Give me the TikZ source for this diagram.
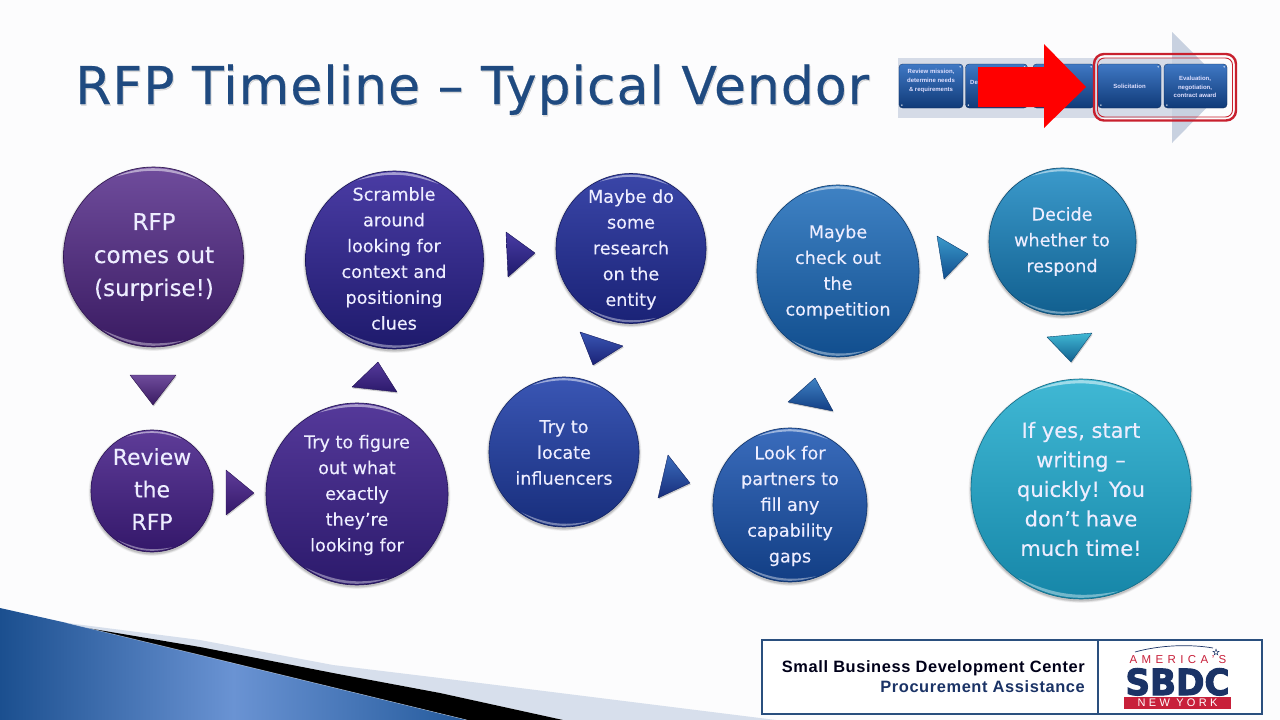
\documentclass[tikz,border=0pt]{standalone}
\usepackage{fontspec}
\setmainfont[FakeBold=0.2]{DejaVu Sans}
\newfontfamily\titlefont[FakeBold=0.4,LetterSpace=1.9]{DejaVu Sans}
\newfontfamily\legendfont[LetterSpace=3.7]{Liberation Sans}
\newfontfamily\logofont[LetterSpace=38]{Liberation Sans}
\newfontfamily\logofontb[LetterSpace=30]{Liberation Sans}
\newfontfamily\heavyfont[FakeBold=3]{DejaVu Sans Bold}
\newfontfamily\minifont{Liberation Sans}
\usetikzlibrary{calc}
\definecolor{bgc}{HTML}{FCFCFD}
\definecolor{titlec}{HTML}{1F4A80}
\definecolor{bandc}{HTML}{D7DFEC}
\definecolor{logoblue}{HTML}{1B3366}
\definecolor{logored}{HTML}{C8203A}
\definecolor{bordc}{HTML}{2A4F7E}
\definecolor{ringred}{HTML}{C8202E}
\definecolor{miniT}{HTML}{3F78C4}
\definecolor{miniB}{HTML}{103A78}
\definecolor{chevron}{HTML}{C8D1E0}
\definecolor{swA}{HTML}{1B4F8F}
\definecolor{swB}{HTML}{6A93D3}
\definecolor{swC}{HTML}{245A9C}
\definecolor{oA}{HTML}{6F4C9C}\definecolor{oa}{HTML}{3A1B62}
\definecolor{oB}{HTML}{5E3C98}\definecolor{ob}{HTML}{34186A}
\definecolor{oC}{HTML}{55399A}\definecolor{oc}{HTML}{2C1A6C}
\definecolor{oD}{HTML}{4A3CA4}\definecolor{od}{HTML}{1E1A6C}
\definecolor{oE}{HTML}{3A46A8}\definecolor{oe}{HTML}{1A2276}
\definecolor{oF}{HTML}{3A56B4}\definecolor{of}{HTML}{182E7C}
\definecolor{oG}{HTML}{3A6CBC}\definecolor{og}{HTML}{123E84}
\definecolor{oH}{HTML}{3F82C4}\definecolor{oh}{HTML}{114E8E}
\definecolor{oI}{HTML}{3B9ACB}\definecolor{oi}{HTML}{115F8F}
\definecolor{oJ}{HTML}{40B8D4}\definecolor{oj}{HTML}{1686A8}
\tikzset{
  orbtext/.style={align=center,text=white!93!blue,inner sep=0pt},
  minibox/.style={rounded corners=3.5pt,top color=miniT,bottom color=miniB,draw=miniB!70!black,line width=.3pt,minimum height=44pt,inner sep=0pt},
  minilabel/.style={align=center,text=white!88!blue,inner sep=0pt,font=\minifont\bfseries\fontsize{6}{8.6}\selectfont},
}
% \orb{name}{x}{y}{r}{top colour}{bottom colour}
\newcommand\orb[6]{%
  \foreach \k/\o in {3/.05,2/.08,1/.12}{\fill[black,opacity=\o] (#2,#3+1.5) circle[radius=#4+\k*.8];}
  \node[circle,inner sep=0pt,minimum size=2*#4 pt,draw=#6!80!black,line width=.6pt,top color=#5,bottom color=#6] (#1) at (#2,#3) {};
  \path (#2,#3) ++(245:#4-1.2) coordinate (p1);
  \fill[white,opacity=.5] (p1) arc[start angle=245,end angle=300,radius=#4-1.2] to[bend right=18] (p1);
  \path (#2,#3) ++(70:#4-1.2) coordinate (p1);
  \fill[white,opacity=.4] (p1) arc[start angle=70,end angle=125,radius=#4-1.2] to[bend right=18] (p1);
}
% \tri{x1}{y1}{x2}{y2}{x3}{y3}{top}{bottom}
\newcommand\tri[8]{%
  \fill[black,opacity=.18,line join=round] (#1+.8,#2+1.5) -- (#3+.8,#4+1.5) -- (#5+.8,#6+1.5) -- cycle;
  \path[draw=#8!80!black,line width=.4pt,line join=round,top color=#7,bottom color=#8] (#1,#2) -- (#3,#4) -- (#5,#6) -- cycle;
}
\begin{document}
\begin{tikzpicture}[x=1pt,y=-1pt]
\useasboundingbox (0,0) rectangle (1280,720);
\fill[bgc] (0,0) rectangle (1280,720);
% swoosh
\fill[bandc] (67,623) -- (200,640) -- (333,665) -- (440,678) -- (640,703) -- (776,720) -- (563,720) -- (440,693) -- (87,628) -- cycle;
\fill[black] (87,628) -- (200,647) -- (333,673) -- (440,693) -- (563,720) -- (467,720) -- cycle;
\shade[left color=swA,right color=swC,middle color=swB]
  (0,608) -- (67,623) -- (200,655) -- (467,720) -- (0,720) -- cycle;
\draw[white,opacity=.45,line width=.5pt] (67,623) -- (200,655) -- (467,720);
% title
\node[anchor=base west,inner sep=0pt,text=black,opacity=.12,font=\titlefont\fontsize{52}{52}\selectfont] at (76,105.5) {RFP Timeline – Typical Vendor};
\node[anchor=base west,inner sep=0pt,text=titlec,font=\titlefont\fontsize{52}{52}\selectfont] (title) at (75,104) {RFP Timeline – Typical Vendor};
% mini process
\fill[chevron,opacity=.75] (898,58) rectangle (1172,118);
\fill[chevron] (1172,32) -- (1227,87) -- (1172,143) -- cycle;
\node[minibox,minimum width=64pt] (m1) at (931,86) {};
\node[minibox,minimum width=62pt] (m2) at (996.5,86) {};
\node[minibox,minimum width=61pt] (m3) at (1063.5,86) {};
\node[minibox,minimum width=63pt] (m4) at (1129.5,86) {};
\node[minibox,minimum width=63pt] (m5) at (1195.5,86) {};
\foreach \n in {m1,m2,m3,m4,m5}{
  \fill[white,opacity=.8] ($(\n.north east)+(-3,3)$) circle[radius=.8];
  \fill[white,opacity=.8] ($(\n.south west)+(3,-3)$) circle[radius=.8];
}
\node[minilabel] (m1t) at (931,81) {Review mission,\\determine needs\\\& requirements};
\node[minilabel,anchor=west] (m2t) at (970,82) {De};
\node[minilabel] (m4t) at (1129.5,86) {Solicitation};
\node[minilabel] (m5t) at (1195,87) {Evaluation,\\negotiation,\\contract award};
\draw[ringred,line width=2.4pt,rounded corners=10pt] (1094,54) rectangle (1236,120.5);
\draw[ringred,line width=.9pt,rounded corners=7pt] (1097.5,58) rectangle (1232.5,117);
\fill[red] (978,67) -- (1044,67) -- (1044,44) -- (1086,87) -- (1044,128) -- (1044,107) -- (978,107) -- cycle;
% orbs
\orb{a}{153.5}{257}{90}{oA}{oa}
\orb{b}{152}{491}{61}{oB}{ob}
\orb{c}{357}{494}{91}{oC}{oc}
\orb{d}{394.5}{260}{89}{oD}{od}
\orb{e}{631}{248.5}{75}{oE}{oe}
\orb{f}{564}{452}{75}{oF}{of}
\orb{g}{790}{505}{77}{oG}{og}
\begin{scope}[shift={(838,271)},xscale=.942,transform shape]
\orb{h}{0}{0}{86}{oH}{oh}
\end{scope}
\orb{i}{1062.5}{241.5}{73.5}{oI}{oi}
\orb{j}{1081}{489}{110}{oJ}{oj}
% wedges between the orbs
\tri{130}{375}{176}{375}{153}{405}{oA}{oa}
\tri{226}{470}{254}{493}{226}{515}{oB}{ob}
\tri{378}{362}{352}{387}{397}{392}{oC}{oc}
\tri{506}{232}{535}{253}{508}{277}{oD}{od}
\tri{580}{332}{623}{346}{593}{365}{oF}{oe}
\tri{668}{455}{690}{483}{658}{498}{oG}{of}
\tri{815}{378}{788}{402}{833}{411}{oH}{og}
\tri{937}{236}{968}{254}{944}{279}{oI}{oh}
\tri{1047}{337}{1092}{333}{1071}{362}{oJ}{oi}
% orb labels
\node[orbtext,font=\fontsize{23}{33}\selectfont] (at) at (154,257) {RFP\\comes out\\(surprise!)};
\node[orbtext,font=\fontsize{22}{32.5}\selectfont] (bt) at (152,489) {Review\\the\\RFP};
\node[orbtext,font=\fontsize{17.6}{25.8}\selectfont] (ct) at (357,495) {Try to figure\\out what\\exactly\\they’re\\looking for};
\node[orbtext,font=\fontsize{17.6}{25.8}\selectfont] (dt) at (394,258.5) {Scramble\\around\\looking for\\context and\\positioning\\clues};
\node[orbtext,font=\fontsize{17.6}{25.8}\selectfont] (et) at (631,249.5) {Maybe do\\some\\research\\on the\\entity};
\node[orbtext,font=\fontsize{17.6}{25.8}\selectfont] (ft) at (564,452.5) {Try to\\locate\\influencers};
\node[orbtext,font=\fontsize{17.6}{25.8}\selectfont] (gt) at (790,506) {Look for\\partners to\\fill any\\capability\\gaps};
\node[orbtext,font=\fontsize{17.6}{25.8}\selectfont] (ht) at (838,272) {Maybe\\check out\\the\\competition};
\node[orbtext,font=\fontsize{17.6}{25.8}\selectfont] (it) at (1062,241.5) {Decide\\whether to\\respond};
\node[orbtext,font=\fontsize{21}{29.5}\selectfont] (jt) at (1081,489) {If yes, start\\writing –\\quickly! You\\don’t have\\much time!};
% legend
\fill[white] (762,640) rectangle (1262,714);
\draw[bordc,line width=1.6pt] (762,640) rectangle (1262,714);
\draw[bordc,line width=1.6pt] (1098,640) -- (1098,714);
\node[anchor=base east,inner sep=0pt,text=black!90!blue,font=\legendfont\bfseries\fontsize{16.4}{16.4}\selectfont] (l1) at (1085,672) {Small Business Development Center};
\node[anchor=base east,inner sep=0pt,text=logoblue,font=\legendfont\bfseries\fontsize{16.4}{16.4}\selectfont] (l2) at (1085,692) {Procurement Assistance};
% logo
\draw[logoblue,line width=.7pt] (1135,652) .. controls (1160,645) and (1190,644) .. (1213,648);
\node[inner sep=0pt,text=logoblue,font=\fontsize{9}{9}\selectfont] (star) at (1216,652) {☆};
\node[anchor=center,inner sep=0pt,text=logored,font=\logofont\fontsize{11.5}{11.5}\selectfont] (l3) at (1178,660) {AMERICA’S};
\node[anchor=base,inner sep=0pt,text=logoblue,xscale=.95,font=\heavyfont\fontsize{36}{36}\selectfont] (l4) at (1177.5,695) {SBDC};
\fill[logored] (1124,697) rectangle (1231,709);
\node[inner sep=0pt,text=white,font=\logofontb\fontsize{11}{11}\selectfont] (l5) at (1177.5,703) {NEW YORK};
\end{tikzpicture}
\end{document}
